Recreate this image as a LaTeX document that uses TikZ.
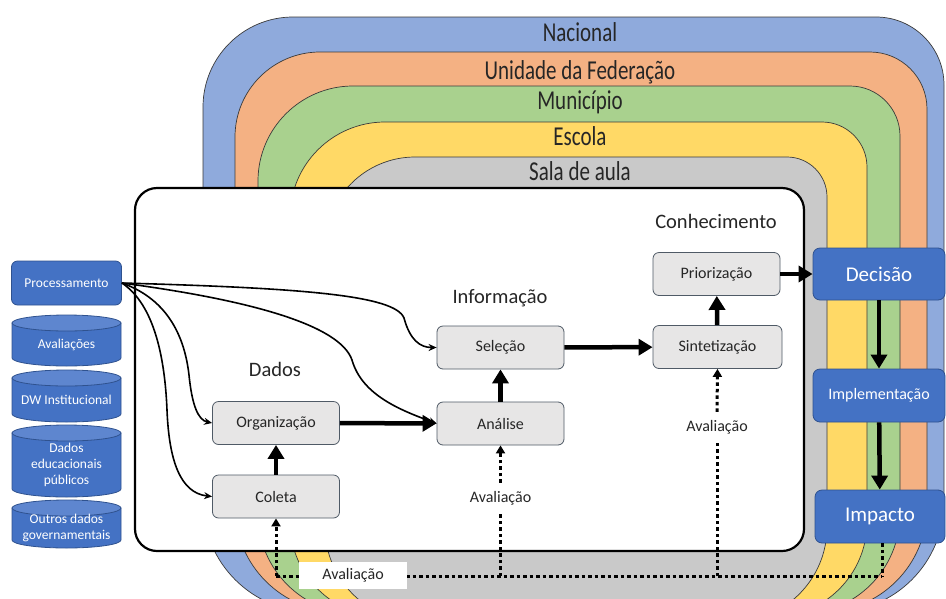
\documentclass[tikz,border=0pt]{standalone}
\usepackage{fontspec}
\setmainfont{Carlito}
\usepackage{graphicx}
\usetikzlibrary{arrows.meta}

\definecolor{bBlue}{HTML}{8FAADC}
\definecolor{bOrange}{HTML}{F4B183}
\definecolor{bGreen}{HTML}{A9D18E}
\definecolor{bYellow}{HTML}{FFD966}
\definecolor{bGray}{HTML}{C9C9C9}
\definecolor{bLine}{HTML}{3A3A3A}
\definecolor{acc}{HTML}{4472C4}
\definecolor{accLine}{HTML}{2F528F}
\definecolor{cylTop}{HTML}{5E86CF}
\definecolor{boxFill}{HTML}{E7E6E6}
\definecolor{boxLine}{HTML}{4F5A66}
\definecolor{txt}{HTML}{262626}

\newcommand\bandlabel[1]{\scalebox{1}[1.3]{#1}}
% fill, L, T, R, B, r top-left, r top-right, r bottom
\newcommand\band[8]{%
  \filldraw[bandline, fill=#1]
   (#2,{#3+#6}) .. controls (#2,{#3+0.448*#6}) and ({#2+0.448*#6},#3) .. ({#2+#6},#3)
   -- ({#4-#7},#3) .. controls ({#4-0.448*#7},#3) and (#4,{#3+0.448*#7}) .. (#4,{#3+#7})
   -- (#4,{#5-#8}) .. controls (#4,{#5-0.448*#8}) and ({#4-0.448*#8},#5) .. ({#4-#8},#5)
   -- ({#2+#8},#5) .. controls ({#2+0.448*#8},#5) and (#2,{#5-0.448*#8}) .. (#2,{#5-#8}) -- cycle;}
% name, top, bottom, text
\newcommand\cyl[4]{%
  \filldraw[draw=accLine, fill=acc, line width=0.8pt]
   (12,{#2+8}) -- (12,{#3-8}) .. controls (12,{#3-3.6}) and ({66.5-30.1},#3) .. (66.5,#3)
   .. controls ({66.5+30.1},#3) and (121,{#3-3.6}) .. (121,{#3-8}) -- (121,{#2+8}) -- cycle;
  \filldraw[draw=accLine, fill=cylTop, line width=0.8pt] (66.5,{#2+8}) ellipse [x radius=54.5pt, y radius=8pt];
  \node[lefttext] (#1) at (66.5,{(#2+#3)/2+4}) {#4};}

\begin{document}
\begin{tikzpicture}[x=1pt,y=-1pt,
  bandline/.style={draw=bLine, line width=0.7pt},
  bandtext/.style={text=txt, font=\fontsize{21}{21}\selectfont, anchor=base, inner sep=0pt},
  sectlabel/.style={text=txt, font=\fontsize{20.5}{24}\selectfont, anchor=base, inner sep=0pt},
  procbox/.style={draw=boxLine, fill=boxFill, line width=0.8pt, rounded corners=6pt,
    minimum width=127pt, minimum height=43pt, inner sep=0pt, text=txt,
    font=\fontsize{16}{18}\selectfont},
  bluebox/.style={draw=accLine, fill=acc, line width=0.8pt, rounded corners=7pt,
    inner sep=0pt, text=white},
  lefttext/.style={text=white, font=\fontsize{13.5}{16}\selectfont, align=center, inner sep=0pt},
  bigarrow/.style={line width=4.5pt, -{Triangle[length=14pt,width=16pt]}},
  thinarrow/.style={line width=1.6pt, -{Stealth[length=8pt,width=7pt]}},
  dotline/.style={line width=3pt, dash pattern=on 3.5pt off 3pt},
  dotarrow/.style={dotline, -{Triangle[length=8pt,width=9pt]}},
  evaltext/.style={text=txt, font=\fontsize{16}{18}\selectfont, minimum height=30pt, inner sep=0pt}
]
\useasboundingbox (0,0) rectangle (946,598);

% ---------- nested bands ----------
\begin{scope}
\clip (0,0) rectangle (946,598);
\band{bBlue}{203}{17}{944}{612}{90}{68}{110}
\band{bOrange}{235}{52}{927}{612}{85}{57}{105}
\band{bGreen}{258}{86}{900}{614}{95}{50}{100}
\band{bYellow}{290}{122}{867}{617}{95}{45}{95}
\band{bGray}{325}{157}{827}{622}{90}{40}{95}
\end{scope}

\node[bandtext] (nac) at (580,41.5) {\bandlabel{Nacional}};
\node[bandtext] (uf) at (580,79.5) {\bandlabel{Unidade da Federação}};
\node[bandtext] (mun) at (580,109.5) {\bandlabel{Município}};
\node[bandtext] (esc) at (580,145.5) {\bandlabel{Escola}};
\node[bandtext] (sal) at (580,180.5) {\bandlabel{Sala de aula}};

% ---------- white panel ----------
\filldraw[draw=black, fill=white, line width=2.2pt, rounded corners=22pt] (135,188) rectangle (804,551);

% ---------- left sources ----------
\node[bluebox, rounded corners=6pt, minimum width=110pt, minimum height=44pt,
  font=\fontsize{13.5}{16}\selectfont] (proc) at (66.5,283) {Processamento};
\cyl{aval}{315}{366}{Avaliações}
\cyl{dw}{370}{422}{DW Institucional}
\cyl{dep}{425}{497}{Dados\\educacionais\\públicos}
\cyl{odg}{500}{548}{Outros dados\\governamentais}

% ---------- section labels ----------
\node[sectlabel] (ldados) at (275,376) {Dados};
\node[sectlabel] (linfo) at (500,303) {Informação};
\node[sectlabel] (lconh) at (716,228) {Conhecimento};

% ---------- process boxes ----------
\node[procbox] (org) at (276,423) {Organização};
\node[procbox] (col) at (276,496.5) {Coleta};
\node[procbox] (ana) at (500.5,423.5) {Análise};
\node[procbox] (sel) at (500.5,347.5) {Seleção};
\node[procbox, minimum width=129pt] (sin) at (717.5,347) {Sintetização};
\node[procbox] (pri) at (716.5,274) {Priorização};

\node[bluebox, minimum width=132pt, minimum height=52pt, font=\fontsize{21}{24}\selectfont] (dec) at (879,274) {Decisão};
\node[bluebox, minimum width=132pt, minimum height=53pt, font=\fontsize{16}{18}\selectfont] (imp) at (879,395.5) {Implementação};
\node[bluebox, minimum width=130pt, minimum height=53pt, font=\fontsize{21}{24}\selectfont] (ipc) at (880,516.5) {Impacto};

% ---------- thin curved arrows ----------
\draw[thinarrow] (proc.east) .. controls (300,288) and (395,295) .. (404,318)
  .. controls (410,340) and (420,347.5) .. (sel.west);
\draw[thinarrow] (proc.east) .. controls (250,300) and (340,325) .. (352,360)
  .. controls (362,395) and (400,410) .. (ana.west);
\draw[thinarrow] (proc.east) .. controls (170,300) and (185,340) .. (189,375)
  .. controls (192,405) and (198,420) .. (org.west);
\draw[thinarrow] (proc.east) .. controls (155,305) and (165,360) .. (167,410)
  .. controls (169,460) and (180,493) .. (col.west);

% ---------- thick arrows ----------
\draw[bigarrow] (col) -- (org);
\draw[bigarrow] (org) -- (ana);
\draw[bigarrow] (ana) -- (sel);
\draw[bigarrow] (sel) -- (sin);
\draw[bigarrow] (sin) -- (pri);
\draw[bigarrow] (pri) -- (dec);
\draw[bigarrow] (dec) -- (imp);
\draw[bigarrow] (imp) -- (ipc);

% ---------- evaluation loop ----------
\coordinate (b1) at (276,576);
\coordinate (b2) at (500.5,576);
\coordinate (b3) at (717,576);
\coordinate (b4) at (882,576);
\node[evaltext] (av2) at (500.5,498) {Avaliação};
\node[evaltext] (av3) at (717,427) {Avaliação};

\draw[dotline] (b1) -- (b4);
\draw[dotline] (b4 |- ipc.south) -- (b4);
\draw[dotarrow] (b1) -- (col.south);
\draw[dotline] (b2) -- (av2.south);
\draw[dotarrow] (av2.north) -- (ana.south);
\draw[dotline] (b3) -- (av3.south);
\draw[dotarrow] (av3.north) -- (sin.south);

\node[fill=white, inner sep=0pt, minimum width=108pt, minimum height=27pt,
  text=txt, font=\fontsize{16}{18}\selectfont] (av1) at (353,575.5) {Avaliação};
\end{tikzpicture}
\end{document}
